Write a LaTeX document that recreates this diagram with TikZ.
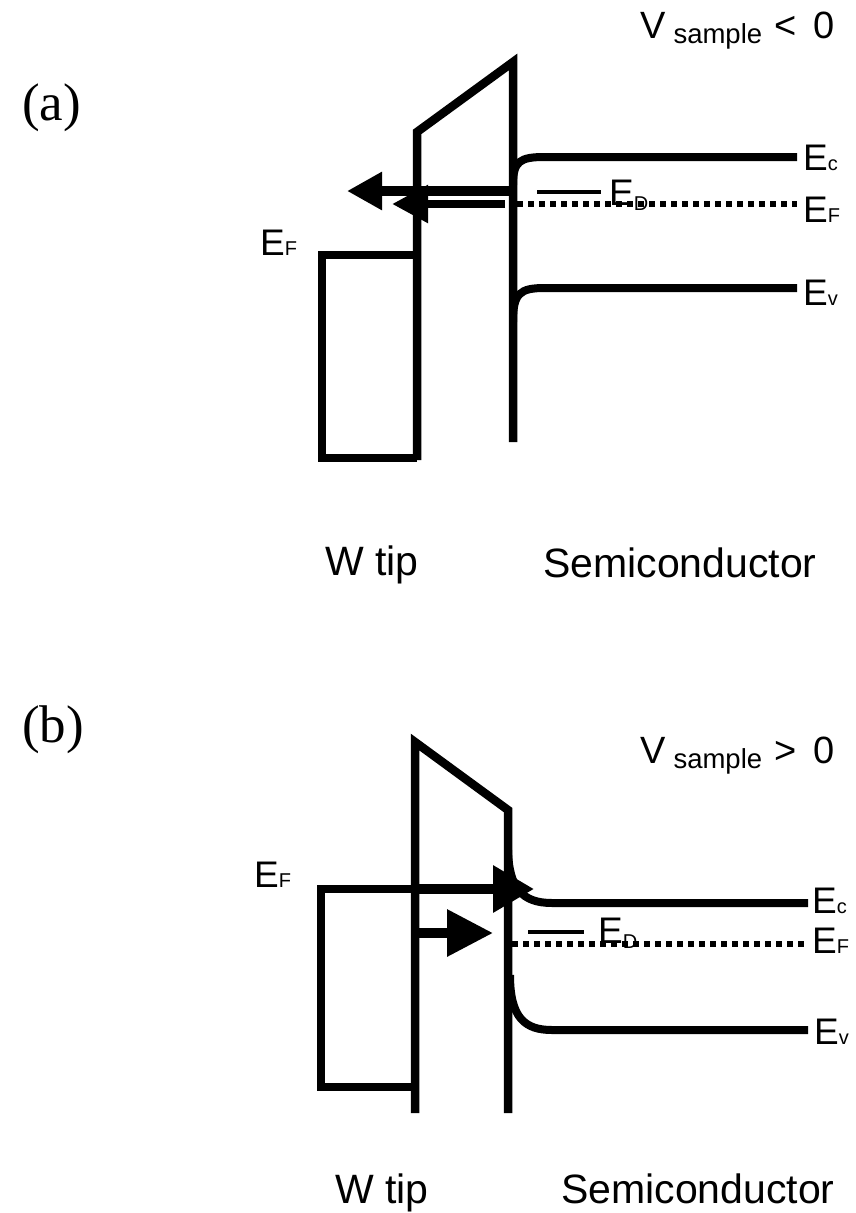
\documentclass[tikz,border=0pt]{standalone}
\usepackage{fontspec}
\setmainfont{Liberation Sans}
\newfontfamily\tnrfont{Liberation Serif}
\usetikzlibrary{arrows.meta}
\newcommand{\Elab}[1]{E{\fontsize{20}{20}\selectfont #1}}
\newcommand{\Vlab}[1]{V\hspace{8pt}\raisebox{-5pt}{\fontsize{27.5}{28}\selectfont sample}\hspace{12pt}#1\hspace{0.45em}0}
\begin{document}
\begin{tikzpicture}[x=1pt,y=-1pt,
  ln/.style={line width=8.5pt, line join=miter},
  band/.style={line width=8pt},
  fermi/.style={line width=6.5pt, dash pattern=on 6pt off 5pt},
  donor/.style={line width=4.5pt},
  elab/.style={anchor=base west, inner sep=0pt, font=\fontsize{37}{37}\selectfont},
  big/.style={anchor=base west, inner sep=0pt, font=\fontsize{41}{41}\selectfont},
  vlab/.style={anchor=base west, inner sep=0pt, font=\fontsize{38}{38}\selectfont},
  panel/.style={anchor=base west, inner sep=0pt, font=\tnrfont\fontsize{53}{53}\selectfont},
  tunnel/.style={line width=9.5pt}
]
\fill[white] (0,0) rectangle (855,1213);
\useasboundingbox (0,0) rectangle (855,1213);

% ---------------- panel (a) ----------------
\node[panel] (pa) at (22,120) {(a)};
\node[vlab] (va) at (640,38) {\Vlab{<}};

\coordinate (aB1) at (417,460);
\coordinate (aB2) at (417,132);
\coordinate (aB3) at (513,62);
\coordinate (aB4) at (513,442);
\draw[ln] (aB1) -- (aB2) -- (aB3) -- (aB4);

\coordinate (aR1) at (417,458);
\coordinate (aR2) at (322,458);
\coordinate (aR3) at (322,255);
\coordinate (aR4) at (417,255);
\draw[ln] (aR1) -- (aR2) -- (aR3) -- (aR4);

\coordinate (aC0) at (513,185);
\coordinate (aC1) at (545,157);
\coordinate (aC2) at (797,157);
\draw[band] (aC0) .. controls (513,161) and (520,157) .. (aC1) -- (aC2);

\coordinate (aV0) at (513,322);
\coordinate (aV1) at (545,288);
\coordinate (aV2) at (797,288);
\draw[band] (aV0) .. controls (513,293) and (520,288) .. (aV1) -- (aV2);

\coordinate (aF0) at (517,204);
\coordinate (aF1) at (797,204);
\draw[fermi] (aF0) -- (aF1);

\coordinate (aD0) at (537,192);
\coordinate (aD1) at (601,192);
\draw[donor] (aD0) -- (aD1);

\coordinate (aA0) at (513,191);
\coordinate (aA1) at (347,191);
\draw[tunnel, -{Triangle[length=35pt,width=36pt]}] (aA0) -- (aA1);
\coordinate (aA2) at (505,204);
\coordinate (aA3) at (392,204);
\draw[line width=8.5pt, -{Triangle[length=36pt,width=36pt]}] (aA2) -- (aA3);

\node[elab] (aEc) at (803,170) {\Elab{c}};
\node[elab] (aEf) at (803,222) {\Elab{F}};
\node[elab] (aEv) at (803,305) {\Elab{v}};
\node[elab] (aEfl) at (260,255) {\Elab{F}};
\node[elab] (aEd) at (609,205) {E\raisebox{-5pt}{\fontsize{20}{20}\selectfont D}};

\node[big] (aW) at (325,575) {W tip};
\node[big] (aS) at (543,577) {Semiconductor};

% ---------------- panel (b) ----------------
\node[panel] (pb) at (22,742) {(b)};
\node[vlab] (vb) at (640,763) {\Vlab{>}};

\coordinate (bB1) at (415,1113);
\coordinate (bB2) at (415,742);
\coordinate (bB3) at (508,810);
\coordinate (bB4) at (508,1113);
\draw[ln] (bB1) -- (bB2) -- (bB3) -- (bB4);

\coordinate (bR1) at (415,1087);
\coordinate (bR2) at (321,1087);
\coordinate (bR3) at (321,889);
\coordinate (bR4) at (415,889);
\draw[ln] (bR1) -- (bR2) -- (bR3) -- (bR4);

\coordinate (bC0) at (508,850);
\coordinate (bC1) at (552,903);
\coordinate (bC2) at (808,903);

\coordinate (bV0) at (510,975);
\coordinate (bV1) at (552,1030);
\coordinate (bV2) at (808,1030);
\draw[band] (bV0) .. controls (510,1018) and (525,1030) .. (bV1) -- (bV2);

\coordinate (bF0) at (512,944);
\coordinate (bF1) at (808,944);
\draw[fermi] (bF0) -- (bF1);

\coordinate (bD0) at (528,932);
\coordinate (bD1) at (584,932);
\draw[donor] (bD0) -- (bD1);

\coordinate (bA0) at (415,889);
\coordinate (bA1) at (534,889);
\draw[tunnel, -{Triangle[length=41pt,width=45pt]}] (bA0) -- (bA1);
\coordinate (bA2) at (415,933);
\coordinate (bA3) at (493,933);
\draw[tunnel, -{Triangle[length=46pt,width=45pt]}] (bA2) -- (bA3);

\draw[band] (bC0) .. controls (509,888) and (522,903) .. (bC1) -- (bC2);

\node[elab] (bEc) at (812,913) {\Elab{c}};
\node[elab] (bEf) at (812,953) {\Elab{F}};
\node[elab] (bEv) at (814,1044) {\Elab{v}};
\node[elab] (bEfl) at (254,887) {\Elab{F}};
\node[elab] (bEd) at (598,943) {E\raisebox{-5pt}{\fontsize{20}{20}\selectfont D}};

\node[big] (bW) at (335,1203) {W tip};
\node[big] (bS) at (561,1203) {Semiconductor};
\end{tikzpicture}
\end{document}
